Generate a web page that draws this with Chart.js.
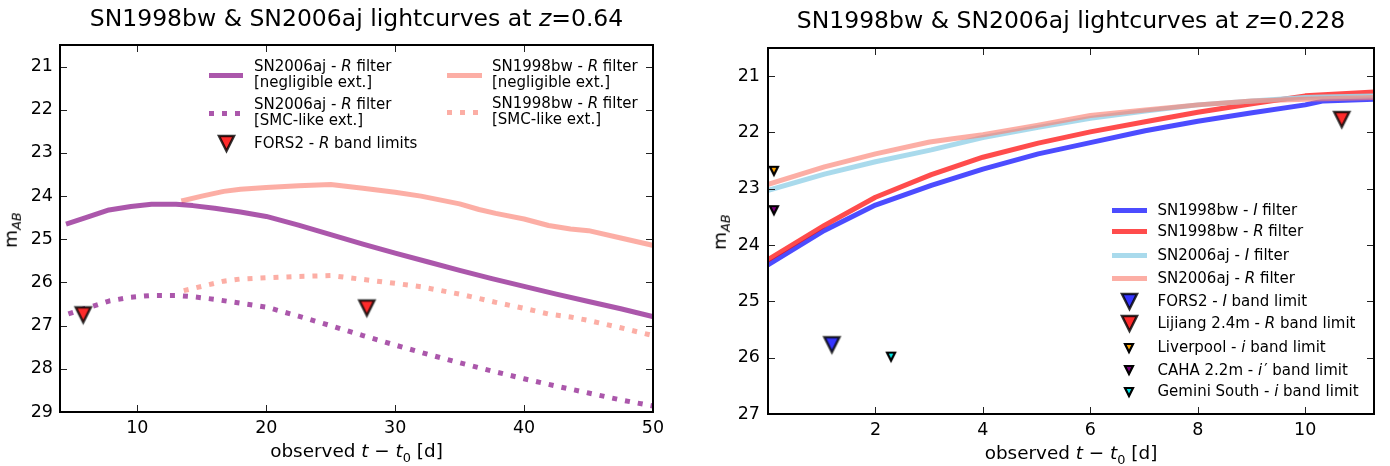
<!DOCTYPE html>
<html>
<head>
<meta charset="utf-8">
<title>SN1998bw & SN2006aj lightcurves</title>
<script src="https://cdn.jsdelivr.net/npm/chart.js@4.4.1/dist/chart.umd.min.js"></script>
<style>
    html, body { margin: 0; padding: 0; background: #fff; }
    #page {
        position: relative; width: 1390px; height: 466px; overflow: hidden;
        font-family: 'DejaVu Sans', sans-serif; color: #000;
    }
    .panel { position: absolute; top: 0; }
    .txt { position: absolute; white-space: nowrap; }
    sub { font-size: 70%; vertical-align: baseline; position: relative; top: 0.32em; }
    .sw { position: absolute; height: 5px; }
</style>
</head>
<body>
<div id="page">
    <div class="panel" style="left:0"><canvas id="chartLeft" width="690" height="466"></canvas></div>
    <div class="panel" style="left:690px"><canvas id="chartRight" width="700" height="466"></canvas></div>
</div>
<script>
// ================================
// DATA - left panel (z = 0.64)
// ================================
const X_TICKS_L = [10, 20, 30, 40, 50];
const Y_TICKS_L = [21, 22, 23, 24, 25, 26, 27, 28, 29];

const T_AJ_L   = [4.65, 6, 7.8, 9.5, 11.1, 13, 14.3, 16, 18, 20, 22.5, 25, 27.5, 30, 32.5, 35, 37.5, 40, 42.5, 45, 47.5, 50];
const M_AJ_NEG = [24.63, 24.50, 24.32, 24.24, 24.19, 24.19, 24.22, 24.28, 24.37, 24.47, 24.67, 24.89, 25.11, 25.32, 25.52, 25.72, 25.91, 26.09, 26.27, 26.44, 26.61, 26.79];
const M_AJ_SMC = [26.73, 26.60, 26.43, 26.34, 26.30, 26.30, 26.33, 26.39, 26.48, 26.57, 26.78, 27.00, 27.23, 27.45, 27.66, 27.86, 28.05, 28.23, 28.40, 28.56, 28.72, 28.86];

const T_BW_L   = [13.6, 15, 16.7, 18, 20, 22.5, 25, 27.5, 30, 32, 35, 36.5, 37.8, 40, 41.9, 43.6, 45, 47.5, 50];
const M_BW_NEG = [24.10, 24.00, 23.89, 23.84, 23.80, 23.76, 23.73, 23.82, 23.91, 24.00, 24.18, 24.31, 24.40, 24.53, 24.68, 24.76, 24.80, 24.97, 25.14];
const M_BW_SMC = [26.19, 26.09, 25.97, 25.92, 25.89, 25.86, 25.84, 25.93, 26.02, 26.10, 26.27, 26.37, 26.46, 26.60, 26.73, 26.80, 26.88, 27.05, 27.23];

const T_FORS2_R = [5.8, 27.8];
const M_FORS2_R = [26.75, 26.59];

// ================================
// DATA - right panel (z = 0.228)
// ================================
const X_TICKS_R = [2, 4, 6, 8, 10];
const Y_TICKS_R = [21, 22, 23, 24, 25, 26, 27];

const T_R    = [0, 1.05, 2, 3.04, 4, 5.03, 6, 7.02, 8, 9.01, 10, 10.34, 11.3];
const M_BW_I = [24.35, 23.74, 23.29, 22.94, 22.65, 22.38, 22.18, 21.97, 21.80, 21.65, 21.51, 21.44, 21.41];
const M_BW_R = [24.26, 23.65, 23.15, 22.75, 22.44, 22.19, 21.99, 21.81, 21.64, 21.49, 21.35, 21.33, 21.28];
const M_AJ_I = [23.03, 22.74, 22.52, 22.31, 22.09, 21.91, 21.75, 21.62, 21.51, 21.44, 21.38, 21.37, 21.35];

const T_AJ_R = [0, 1.05, 2, 3.01, 3.44, 4, 5.03, 6, 7.02, 8, 9.01, 10, 11.3];
const M_AJ_R = [22.92, 22.61, 22.38, 22.17, 22.11, 22.04, 21.87, 21.70, 21.60, 21.51, 21.44, 21.41, 21.38];

const T_FORS2_I = [1.19],  M_FORS2_I = [25.77];
const T_LIJIANG = [10.68], M_LIJIANG = [21.77];
const T_LIVERP  = [0.11],  M_LIVERP  = [22.68];
const T_CAHA    = [0.11],  M_CAHA    = [23.38];
const T_GEMINI  = [2.29],  M_GEMINI  = [25.98];

// ================================
// STYLE
// ================================
const C_PURPLE = 'rgba(128,0,128,0.66)';
const C_SALMON = 'rgba(250,128,114,0.64)';
const C_BLUE   = 'rgba(0,0,255,0.7)';
const C_RED    = 'rgba(255,0,0,0.7)';
const C_LBLUE  = 'rgba(160,214,234,0.9)';
const FONT = "'DejaVu Sans', sans-serif";
const TICK_FONT = { family: FONT, size: 17.5 };
const TITLE_FS = 23.5;
const AXIS_FS = 18.4;
const LEG_FS = 15;
const DOT = [5, 8];

// ================================
// HELPERS
// ================================
function pts(xs, ys) {
    return xs.map((x, i) => ({ x: x, y: ys[i] }));
}

// matplotlib-like 'v' marker (width == height, centred on bbox)
function makeTriangle(size, fill, edge, lw) {
    const pad = Math.ceil(lw) + 1;
    const c = document.createElement('canvas');
    c.width = c.height = size + pad * 2;
    const g = c.getContext('2d');
    g.beginPath();
    g.moveTo(pad, pad);
    g.lineTo(pad + size, pad);
    g.lineTo(pad + size / 2, pad + size);
    g.closePath();
    g.fillStyle = fill;
    g.fill();
    g.lineJoin = 'miter';
    g.lineWidth = lw;
    g.strokeStyle = edge;
    g.stroke();
    return c;
}

const MK_RED_BIG  = () => makeTriangle(15, '#ff2b2b', 'rgba(0,0,0,0.8)', 2.5);
const MK_BLUE_BIG = () => makeTriangle(15, '#3535ff', 'rgba(0,0,0,0.8)', 2.5);
const MK_ORANGE   = () => makeTriangle(8, '#ffa500', '#000', 2.2);
const MK_PURPLE   = () => makeTriangle(8, '#800080', '#000', 2.2);
const MK_CYAN     = () => makeTriangle(8, '#00e8e8', '#000', 2.2);

function lineSet(data, color, order, dash) {
    return {
        data: data,
        borderColor: color,
        borderWidth: 5,
        borderDash: dash || [],
        borderCapStyle: dash ? 'butt' : 'square',
        borderJoinStyle: 'round',
        pointRadius: 0,
        tension: 0,
        fill: false,
        order: order
    };
}

function markerSet(data, img) {
    return {
        data: data,
        showLine: false,
        pointStyle: img,
        pointRadius: 6,
        order: 0
    };
}

// frame + inward ticks on all four sides
const frameTicks = {
    id: 'frameTicks',
    afterDraw(chart) {
        const { ctx, chartArea: a, scales: { x, y } } = chart;
        ctx.save();
        ctx.strokeStyle = '#222';
        ctx.lineWidth = 1;
        ctx.beginPath();
        x.ticks.forEach(t => {
            const px = Math.round(x.getPixelForValue(t.value)) + 0.5;
            ctx.moveTo(px, a.bottom); ctx.lineTo(px, a.bottom - 7);
            ctx.moveTo(px, a.top);    ctx.lineTo(px, a.top + 7);
        });
        y.ticks.forEach(t => {
            const py = Math.round(y.getPixelForValue(t.value)) + 0.5;
            ctx.moveTo(a.left, py);  ctx.lineTo(a.left + 7, py);
            ctx.moveTo(a.right, py); ctx.lineTo(a.right - 7, py);
        });
        ctx.stroke();
        ctx.strokeStyle = '#000';
        ctx.lineWidth = 2;
        ctx.strokeRect(a.left, a.top, a.right - a.left, a.bottom - a.top);
        ctx.restore();
    }
};

function makeChart(id, cfg) {
    return new Chart(document.getElementById(id), {
        type: 'line',
        data: { datasets: cfg.datasets },
        options: {
            responsive: false,
            animation: false,
            events: [],
            layout: { padding: cfg.padding },
            plugins: { legend: { display: false }, tooltip: { enabled: false } },
            scales: {
                x: {
                    type: 'linear',
                    min: cfg.xMin, max: cfg.xMax,
                    afterBuildTicks: s => { s.ticks = cfg.xTicks.map(v => ({ value: v })); },
                    afterFit: s => { s.height = cfg.xHeight; },
                    grid: { display: false, drawTicks: false },
                    border: { display: false },
                    ticks: { color: '#000', font: TICK_FONT, padding: 6, maxRotation: 0, autoSkip: false }
                },
                y: {
                    type: 'linear',
                    reverse: true,
                    min: cfg.yMin, max: cfg.yMax,
                    afterBuildTicks: s => { s.ticks = cfg.yTicks.map(v => ({ value: v })); },
                    afterFit: s => { s.width = cfg.yWidth; },
                    grid: { display: false, drawTicks: false },
                    border: { display: false },
                    ticks: { color: '#000', font: TICK_FONT, padding: cfg.yPad, autoSkip: false }
                }
            }
        },
        plugins: [frameTicks]
    });
}

// ================================
// TEXT OVERLAYS
// ================================
const page = document.getElementById('page');

// x = anchor, baseline = y of first baseline
function addText(html, x, baseline, fs, align, lh) {
    lh = lh || fs;
    const el = document.createElement('div');
    el.className = 'txt';
    el.innerHTML = html;
    el.style.fontSize = fs + 'px';
    el.style.lineHeight = lh + 'px';
    el.style.top = (baseline - ((lh - 1.164 * fs) / 2 + 0.928 * fs)) + 'px';
    if (align === 'center') {
        el.style.width = '800px';
        el.style.textAlign = 'center';
        el.style.left = (x - 400) + 'px';
    } else {
        el.style.left = x + 'px';
    }
    page.appendChild(el);
    return el;
}

function addYLabel(cx, cy) {
    const el = document.createElement('div');
    el.className = 'txt';
    el.innerHTML = 'm<sub><i>AB</i></sub>';
    el.style.fontSize = AXIS_FS + 'px';
    el.style.lineHeight = AXIS_FS + 'px';
    el.style.width = '60px';
    el.style.textAlign = 'center';
    el.style.left = (cx - 30) + 'px';
    el.style.top = (cy - AXIS_FS / 2) + 'px';
    el.style.transform = 'rotate(-90deg)';
    page.appendChild(el);
}

function addSwatch(x1, x2, y, color, dash) {
    const el = document.createElement('div');
    el.className = 'sw';
    el.style.left = x1 + 'px';
    el.style.width = (x2 - x1) + 'px';
    el.style.top = (y - 2.5) + 'px';
    el.style.background = dash
        ? `repeating-linear-gradient(to right, ${color} 0 ${dash[0]}px, transparent ${dash[0]}px ${dash[0] + dash[1]}px)`
        : color;
    page.appendChild(el);
}

function addMarker(img, cx, cy) {
    img.style.position = 'absolute';
    img.style.left = (cx - img.width / 2) + 'px';
    img.style.top = (cy - img.height / 2) + 'px';
    page.appendChild(img);
}

// ================================
// INIT
// ================================
document.addEventListener('DOMContentLoaded', () => {
    if (typeof Chart === 'undefined') {
        console.error('Chart.js not loaded');
        return;
    }

    // -------- left panel --------
    makeChart('chartLeft', {
        padding: { left: 0, top: 45, right: 37, bottom: 0 },
        xMin: 4, xMax: 50, yMin: 20.5, yMax: 29,
        xTicks: X_TICKS_L, yTicks: Y_TICKS_L,
        xHeight: 54, yWidth: 60, yPad: 7,
        datasets: [
            markerSet(pts(T_FORS2_R, M_FORS2_R), MK_RED_BIG()),
            lineSet(pts(T_AJ_L, M_AJ_NEG), C_PURPLE, 1),
            lineSet(pts(T_AJ_L, M_AJ_SMC), C_PURPLE, 2, DOT),
            lineSet(pts(T_BW_L, M_BW_NEG), C_SALMON, 3),
            lineSet(pts(T_BW_L, M_BW_SMC), C_SALMON, 4, DOT)
        ]
    });

    // -------- right panel --------
    makeChart('chartRight', {
        padding: { left: 0, top: 48, right: 16, bottom: 0 },
        xMin: 0, xMax: 11.28, yMin: 20.5, yMax: 27,
        xTicks: X_TICKS_R, yTicks: Y_TICKS_R,
        xHeight: 52, yWidth: 78, yPad: 8,
        datasets: [
            markerSet(pts(T_FORS2_I, M_FORS2_I), MK_BLUE_BIG()),
            markerSet(pts(T_LIJIANG, M_LIJIANG), MK_RED_BIG()),
            markerSet(pts(T_LIVERP, M_LIVERP), MK_ORANGE()),
            markerSet(pts(T_CAHA, M_CAHA), MK_PURPLE()),
            markerSet(pts(T_GEMINI, M_GEMINI), MK_CYAN()),
            lineSet(pts(T_AJ_R, M_AJ_R), C_SALMON, 1),
            lineSet(pts(T_R, M_AJ_I), C_LBLUE, 2),
            lineSet(pts(T_R, M_BW_R), C_RED, 3),
            lineSet(pts(T_R, M_BW_I), C_BLUE, 4)
        ]
    });

    // -------- titles & axis labels --------
    addText('SN1998bw &amp; SN2006aj lightcurves at <i>z</i>=0.64', 356.5, 27, TITLE_FS, 'center');
    addText('SN1998bw &amp; SN2006aj lightcurves at <i>z</i>=0.228', 1071, 28.5, TITLE_FS, 'center');
    addText('observed <i>t</i> − <i>t</i><sub>0</sub> [d]', 356.5, 458, AXIS_FS, 'center');
    addText('observed <i>t</i> − <i>t</i><sub>0</sub> [d]', 1071, 460, AXIS_FS, 'center');
    addYLabel(11.5, 229);
    addYLabel(721, 231);

    // -------- left legend --------
    addSwatch(209, 243, 75, C_PURPLE);
    addText('SN2006aj - <i>R</i> filter<br>[negligible ext.]', 254, 71, LEG_FS, 'left', 16);
    addSwatch(209, 243, 113, C_PURPLE, DOT);
    addText('SN2006aj - <i>R</i> filter<br>[SMC-like ext.]', 254, 109, LEG_FS, 'left', 16);
    addMarker(MK_RED_BIG(), 226, 143);
    addText('FORS2 - <i>R</i> band limits', 254, 148.5, LEG_FS, 'left');

    addSwatch(447, 482, 75, C_SALMON);
    addText('SN1998bw - <i>R</i> filter<br>[negligible ext.]', 492, 71, LEG_FS, 'left', 16);
    addSwatch(447, 482, 112, C_SALMON, DOT);
    addText('SN1998bw - <i>R</i> filter<br>[SMC-like ext.]', 492, 108, LEG_FS, 'left', 16);

    // -------- right legend --------
    const rows = [210.3, 231.7, 255, 278.3, 301.7, 323.3, 347.7, 370, 391.7];
    const lx1 = 1112, lx2 = 1147, mx = 1129.3, tx = 1157.5;
    addSwatch(lx1, lx2, rows[0], C_BLUE);
    addSwatch(lx1, lx2, rows[1], C_RED);
    addSwatch(lx1, lx2, rows[2], C_LBLUE);
    addSwatch(lx1, lx2, rows[3], C_SALMON);
    addMarker(MK_BLUE_BIG(), mx, rows[4]);
    addMarker(MK_RED_BIG(), mx, rows[5]);
    addMarker(MK_ORANGE(), mx, rows[6]);
    addMarker(MK_PURPLE(), mx, rows[7]);
    addMarker(MK_CYAN(), mx, rows[8]);

    const labels = [
        'SN1998bw - <i>I</i> filter',
        'SN1998bw - <i>R</i> filter',
        'SN2006aj - <i>I</i> filter',
        'SN2006aj - <i>R</i> filter',
        'FORS2 - <i>I</i> band limit',
        'Lijiang 2.4m - <i>R</i> band limit',
        'Liverpool - <i>i</i> band limit',
        'CAHA 2.2m - <i>i</i><span style="margin-left:2px">′</span> band limit',
        'Gemini South - <i>i</i> band limit'
    ];
    labels.forEach((html, i) => addText(html, tx, rows[i] + 5.4, LEG_FS, 'left'));
});
</script>
</body>
</html>
